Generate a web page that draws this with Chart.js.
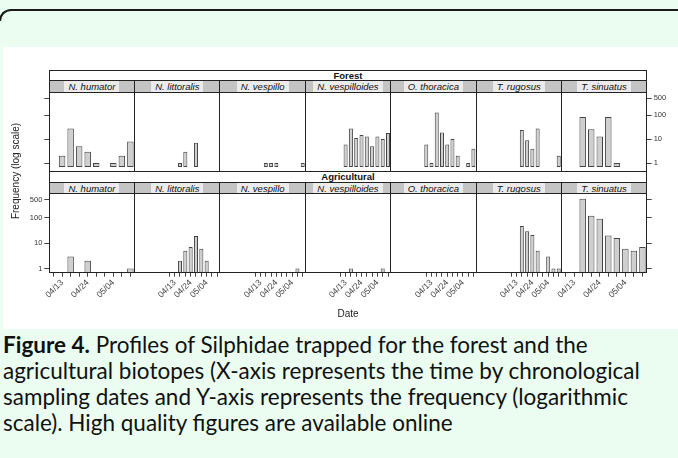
<!DOCTYPE html>
<html><head><meta charset="utf-8">
<script src="https://cdn.jsdelivr.net/npm/chart.js@4.4.1/dist/chart.umd.min.js"></script>
<style>
html,body{margin:0;padding:0;}
body{width:678px;height:458px;overflow:hidden;background:#eafdf0;position:relative;font-family:'Liberation Sans',Arial,sans-serif;}
.abs{position:absolute;}
#corner{left:-1px;top:9px;width:720px;height:10px;border-top:2px solid #1a1a1a;border-left:2px solid #1a1a1a;border-top-left-radius:12px;}
#fig{left:3px;top:47px;width:675px;height:282px;background:#fff;}
.strip{background:#c4c4c4;display:flex;align-items:center;justify-content:center;overflow:hidden;z-index:3;}
.strip span{background:#ebebeb;font-style:italic;font-size:9.5px;color:#111;padding:0 4px;line-height:11px;white-space:nowrap;}
.outer{display:flex;align-items:center;justify-content:center;font-weight:bold;font-size:9.5px;color:#111;background:#fff;z-index:3;}
.line{background:#222;z-index:4;}
.cv{z-index:2;}
#caption{left:3px;top:332px;font-family:Lato,'Noto Sans',sans-serif;color:#111;font-size:19.5px;line-height:26px;white-space:nowrap;z-index:3;}
#caption b{font-weight:700;}
.axt{font-size:10px;color:#222;white-space:nowrap;z-index:3;}
</style></head><body>
<div id="corner" class="abs"></div>
<div id="fig" class="abs"></div>
<div id="caption" class="abs"><span class="cl"><b>Figure 4.</b> Profiles of Silphidae trapped for the forest and the</span><br><span class="cl" id="cl2">agricultural biotopes (X-axis represents the time by chronological</span><br><span class="cl">sampling dates and Y-axis represents the frequency (logarithmic</span><br><span class="cl">scale). High quality figures are available online</span></div>
<script>
// ---- data ----
const species = ['N. humator','N. littoralis','N. vespillo','N. vespilloides','O. thoracica','T. rugosus','T. sinuatus'];
const biotopes = ['Forest','Agricultural'];
const dateLabels = ['', '04/13', '', '', '04/24', '', '', '05/04', '', ''];
const yTicks = [1, 10, 100, 500];
const yTitle = 'Frequency (log scale)';
const xTitle = 'Date';

const forestHumator      = [null, 2, 28, 5, 3, 1, null, 1, 2, 8];
const forestLittoralis   = [null, null, 1, 3, null, 7, null, null, null, null];
const forestVespillo     = [null, null, 1, 1, 1, null, null, null, null, 1];
const forestVespilloides = [null, 6, 28, 11, 15, 13, 5, 13, 10, 18];
const forestThoracica    = [6, 1, 130, 19, 6, 10, 2, null, 1, 4];
const forestRugosus      = [null, null, 24, 9, 4, 28, null, null, null, 2];
const forestSinuatus     = [null, null, 83, 26, 13, 83, 1, null, null, null];

const agriHumator        = [null, null, 3, null, 2, null, null, null, null, 1];
const agriLittoralis     = [null, null, 2, 5, 7, 19, 6, 2, null, null];
const agriVespillo       = [null, null, null, null, null, null, null, null, 1, null];
const agriVespilloides   = [null, null, 1, null, null, null, null, null, 1, null];
const agriThoracica      = [null, null, null, null, null, null, null, null, null, null];
const agriRugosus        = [null, null, 47, 29, 21, 5, null, 3, 1, 1];
const agriSinuatus       = [null, null, 560, 120, 91, 20, 16, 6, 5, 7];

const rowsData = [
  [forestHumator, forestLittoralis, forestVespillo, forestVespilloides, forestThoracica, forestRugosus, forestSinuatus],
  [agriHumator, agriLittoralis, agriVespillo, agriVespilloides, agriThoracica, agriRugosus, agriSinuatus]
];

// ---- layout ----
const L = 49.3, R = 646.7, W = (R - L) / 7;
const rows = [
  {stripTop: 70, specTop: 80.8, panelTop: 92.3, panelBottom: 171},
  {stripTop: 171, specTop: 182.6, panelTop: 193.4, panelBottom: 272.7}
];
const yMin = Math.pow(10, -0.165), yMax = Math.pow(10, 2.955);

Chart.defaults.font.family = "'Liberation Sans', Arial, sans-serif";
Chart.defaults.color = '#333';

function el(cls, x, y, w, h, html) {
  const d = document.createElement('div');
  d.className = 'abs ' + cls;
  d.style.left = x + 'px'; d.style.top = y + 'px';
  d.style.width = w + 'px'; d.style.height = h + 'px';
  if (html !== undefined) d.innerHTML = html;
  document.body.appendChild(d);
  return d;
}

rows.forEach((rw, r) => {
  el('outer', L, rw.stripTop, R - L, rw.specTop - rw.stripTop, biotopes[r]);
  for (let c = 0; c < 7; c++) {
    const pl = L + c * W;
    el('strip', pl, rw.specTop, W, rw.panelTop - rw.specTop, '<span>' + species[c] + '</span>');

    const canvasLeft = Math.floor(pl) - 32;
    const canvasRight = Math.ceil(pl + W) + 32;
    const canvasTop = Math.floor(rw.panelTop) - 4;
    const canvasBottom = Math.ceil(rw.panelBottom) + (r === 1 ? 40 : 4);
    const cw = canvasRight - canvasLeft, ch = canvasBottom - canvasTop;
    const padL = pl - canvasLeft, padR = canvasRight - (pl + W);
    const padT = rw.panelTop - canvasTop, padB = canvasBottom - rw.panelBottom;

    const cv = document.createElement('canvas');
    cv.className = 'abs cv';
    cv.width = cw; cv.height = ch;
    cv.style.left = canvasLeft + 'px'; cv.style.top = canvasTop + 'px';
    cv.style.width = cw + 'px'; cv.style.height = ch + 'px';
    document.body.appendChild(cv);

    const leftAxis = c === 0, rightAxis = c === 6;
    const hasY = leftAxis || rightAxis;
    const yLabels = (r === 1 && leftAxis) || (r === 0 && rightAxis);
    const hasX = r === 1;

    new Chart(cv.getContext('2d'), {
      type: 'bar',
      data: {
        labels: dateLabels,
        datasets: [{
          data: rowsData[r][c],
          backgroundColor: '#cfcfcf',
          borderColor: '#444',
          borderWidth: 1,
          borderSkipped: false,
          barPercentage: 0.76,
          categoryPercentage: 1
        }]
      },
      options: {
        responsive: false,
        animation: false,
        events: [],
        layout: {
          autoPadding: false,
          padding: {
            left: leftAxis ? 0 : padL,
            right: rightAxis ? 0 : padR,
            top: padT,
            bottom: hasX ? 0 : padB
          }
        },
        plugins: {legend: {display: false}, tooltip: {enabled: false}},
        scales: {
          x: {
            type: 'category',
            display: hasX,
            offset: true,
            grid: {offset: false, drawOnChartArea: false, drawTicks: true, tickLength: 4, color: '#444'},
            border: {display: false},
            ticks: {autoSkip: false, minRotation: 45, maxRotation: 45, padding: 1, font: {size: 8.5}, color: '#444'},
            afterFit: s => { s.height = padB; s.paddingLeft = 0; s.paddingRight = 0; }
          },
          y: {
            type: 'logarithmic',
            display: hasY,
            position: rightAxis ? 'right' : 'left',
            min: yMin, max: yMax,
            bounds: 'data',
            afterBuildTicks: s => { s.ticks = yTicks.map(v => ({value: v})); },
            afterFit: s => { s.width = leftAxis ? padL : padR; s.paddingTop = 0; s.paddingBottom = 0; },
            grid: {drawOnChartArea: false, drawTicks: true, tickLength: 5, color: '#444'},
            border: {display: false},
            ticks: {display: yLabels, padding: 2, font: {size: 7.5}, color: '#333', callback: v => String(v)}
          }
        }
      }
    });
  }
  const lw = 1;
  el('line', L, rw.stripTop, R - L, lw);
  el('line', L, rw.panelBottom - 0.5, R - L, lw);
  el('line', L - 0.5, rw.stripTop, lw, rw.panelBottom - rw.stripTop);
  el('line', R - 0.5, rw.stripTop, lw, rw.panelBottom - rw.stripTop);
  el('line', L, rw.specTop - 0.5, R - L, lw);
  el('line', L, rw.panelTop - 0.5, R - L, lw);
  for (let c = 1; c < 7; c++) {
    el('line', L + c * W - 0.5, rw.specTop, lw, rw.panelBottom - rw.specTop);
  }
});

const yt = el('axt', 0, 0, 0, 0, yTitle);
yt.style.width = 'auto'; yt.style.height = 'auto';
yt.style.left = '15px'; yt.style.top = '171px';
yt.style.transform = 'translate(-50%,-50%) rotate(-90deg)';
const xt = el('axt', 0, 0, 0, 0, xTitle);
xt.style.width = 'auto'; xt.style.height = 'auto';
xt.style.left = '348px'; xt.style.top = '313px';
xt.style.transform = 'translate(-50%,-50%)';

const cap = document.getElementById('caption');
const l2 = document.getElementById('cl2');
const target = 637;
const w2 = l2.getBoundingClientRect().width;
if (w2 > 0) cap.style.fontSize = (19.5 * target / w2).toFixed(2) + 'px';
</script>
</body></html>
